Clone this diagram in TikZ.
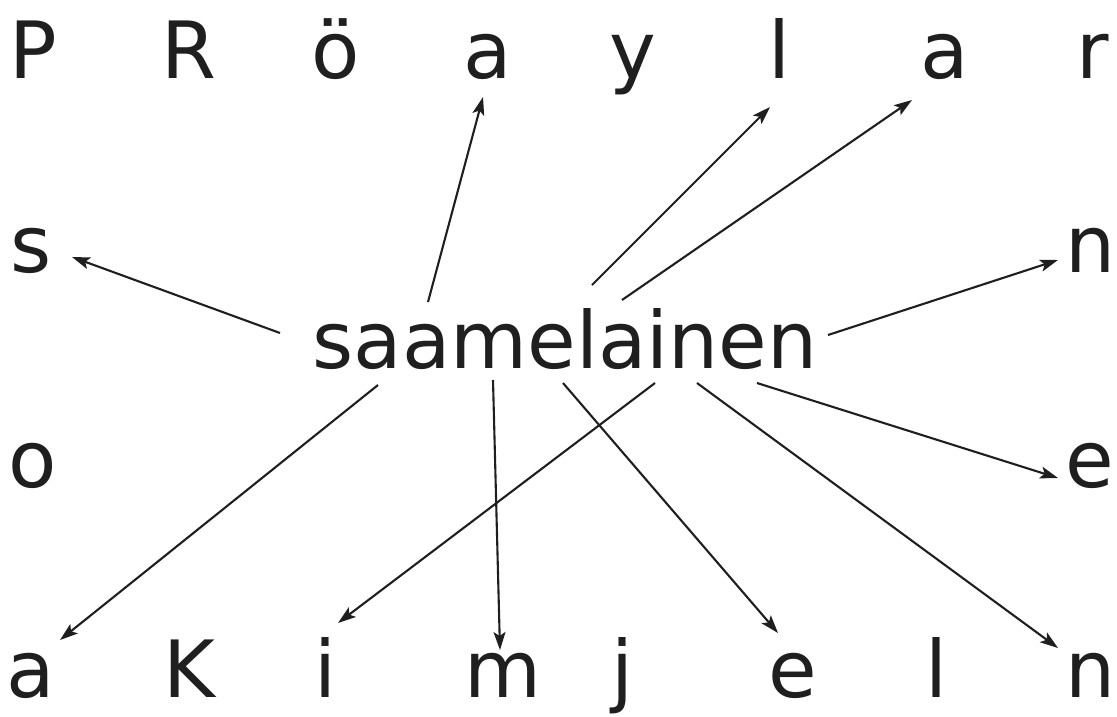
\documentclass[tikz,border=0pt]{standalone}
\usepackage{fontspec}
\setmainfont{DejaVu Sans}
\usetikzlibrary{arrows.meta}
\begin{document}
\begin{tikzpicture}[x=1pt,y=-1pt,
  lt/.style={anchor=base,inner sep=0pt,font=\fontsize{79}{95}\selectfont,text=black!88},
  arr/.style={line width=2.1pt,draw=black!88,-{Stealth[length=18pt,width=12pt,inset=4pt]}}]
\useasboundingbox (0,0) rectangle (1117,716);
% top row
\node[lt] (t1) at (33,78) {P};
\node[lt] (t2) at (189,78) {R};
\node[lt] (t3) at (336,78) {ö};
\node[lt] (t4) at (488,78) {a};
\node[lt] (t5) at (633,78) {y};
\node[lt] (t6) at (779,78) {l};
\node[lt] (t7) at (945,78) {a};
\node[lt] (t8) at (1093,78) {r};
% sides
\node[lt] (ls) at (31,272) {s};
\node[lt] (lo) at (33,487) {o};
\node[lt] (rn) at (1091,272) {n};
\node[lt] (re) at (1090,487) {e};
% bottom row
\node[lt] (b1) at (31,697) {a};
\node[lt] (b2) at (189,697) {K};
\node[lt] (b3) at (325,697) {i};
\node[lt] (b4) at (503,697) {m};
\node[lt] (b5) at (622,697) {j};
\node[lt] (b6) at (793,697) {e};
\node[lt] (b7) at (936,697) {l};
\node[lt] (b8) at (1091,697) {n};
% center
\node[lt] (w) at (565,368) {saamelainen};
% start points
\coordinate (s1) at (428,302);
\coordinate (s2) at (592,285);
\coordinate (s3) at (622,300);
\coordinate (s4) at (280,333);
\coordinate (s5) at (828,335);
\coordinate (s6) at (757,383);
\coordinate (s7) at (378,385);
\coordinate (s8) at (493,380);
\coordinate (s9) at (655,383);
\coordinate (s10) at (563,383);
\coordinate (s11) at (697,383);
% end points
\coordinate (e1) at (483,97);
\coordinate (e2) at (770,107);
\coordinate (e3) at (912,100);
\coordinate (e4) at (72,257);
\coordinate (e5) at (1058,260);
\coordinate (e6) at (1058,478);
\coordinate (e7) at (60,640);
\coordinate (e8) at (500,650);
\coordinate (e9) at (338,623);
\coordinate (e10) at (778,633);
\coordinate (e11) at (1058,648);
\foreach \i in {1,...,11} \draw[arr] (s\i) -- (e\i);
\end{tikzpicture}
\end{document}
